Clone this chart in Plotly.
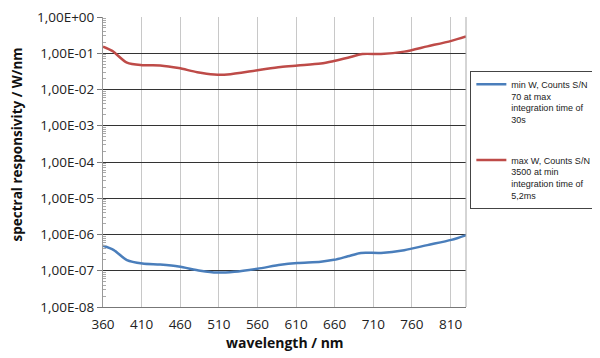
import plotly.graph_objects as go

# Data
wl_min = [360, 374, 391, 411, 434, 458, 486, 508, 530, 560, 590, 612, 642, 659, 677, 694, 720, 750, 780, 811, 830]
min_w = [4.9e-7, 3.7e-7, 1.97e-7, 1.59e-7, 1.48e-7, 1.31e-7, 1.0e-7, 8.9e-8, 9.4e-8, 1.14e-7, 1.46e-7,
         1.63e-7, 1.77e-7, 2.0e-7, 2.5e-7, 3.1e-7, 3.1e-7, 3.7e-7, 5.1e-7, 7.1e-7, 9.6e-7]

wl_max = [360, 372, 391, 411, 434, 458, 482, 504, 521, 560, 590, 612, 642, 659, 677, 696, 720, 750, 780, 811, 830]
max_w = [0.152, 0.116, 0.055, 0.047, 0.046, 0.039, 0.030, 0.026, 0.026, 0.034, 0.042,
         0.046, 0.052, 0.061, 0.075, 0.095, 0.095, 0.111, 0.155, 0.22, 0.29]

x_ticks = [360, 410, 460, 510, 560, 610, 660, 710, 760, 810]
y_ticks = [1e0, 1e-1, 1e-2, 1e-3, 1e-4, 1e-5, 1e-6, 1e-7, 1e-8]
y_ticktext = ["1,00E+00", "1,00E-01", "1,00E-02", "1,00E-03", "1,00E-04",
              "1,00E-05", "1,00E-06", "1,00E-07", "1,00E-08"]

name_min = "min W, Counts S/N<br>70 at max<br>integration time of<br>30s"
name_max = "max W, Counts S/N<br>3500 at min<br>integration time of<br>5,2ms"

x_title = "wavelength / nm"
y_title = "spectral responsivity / W/nm"

minor_vals = [m * 10.0 ** e for e in range(-8, 0) for m in range(2, 10)]

fig = go.Figure()
fig.add_trace(go.Scatter(x=wl_min, y=min_w, mode="lines", name=name_min, legendgroup="a",
                         line=dict(color="#4A7EBB", width=2.5, shape="spline", smoothing=0.8)))
fig.add_trace(go.Scatter(x=wl_max, y=max_w, mode="lines", name=name_max, legendgroup="b",
                         line=dict(color="#BE4B48", width=2.5, shape="spline", smoothing=0.8)))

font_family = "Open Sans, Liberation Sans, Arial, sans-serif"
legend_family = "Liberation Sans, Arial, sans-serif"

# The page adds an 8px body margin, so the figure is 592x350 and shifted.
fig.update_layout(
    width=592, height=350,
    margin=dict(l=95, r=134, t=9, b=51, autoexpand=False),
    paper_bgcolor="white", plot_bgcolor="white",
    font=dict(family=font_family, color="#222"),
    showlegend=True,
    legend=dict(x=1.012, y=0.814, xanchor="left", yanchor="top",
                bordercolor="#444", borderwidth=1, bgcolor="white",
                font=dict(size=9, color="#222", family=legend_family), valign="top",
                traceorder="grouped", tracegroupgap=26, itemwidth=30),
    xaxis=dict(range=[360, 830], tickvals=x_ticks, ticks="outside", ticklen=0,
               showgrid=True, gridcolor="#C8C8C8", gridwidth=1, ticklabelstandoff=5,
               showline=True, linecolor="#777", linewidth=1, automargin=False,
               tickfont=dict(size=13.5, color="#222"), ticklabeloverflow="allow",
               zeroline=False),
    yaxis=dict(type="log", range=[-8, 0], tickvals=y_ticks, ticktext=y_ticktext,
               ticks="outside", ticklen=5, tickcolor="#777", automargin=False,
               showgrid=True, gridcolor="#333", gridwidth=1, ticklabeloverflow="allow",
               showline=True, linecolor="#999", linewidth=1,
               tickfont=dict(size=13.5, color="#222"),
               minor=dict(tickvals=minor_vals, ticks="inside", ticklen=3, tickcolor="#AAA", showgrid=False),
               zeroline=False),
    annotations=[
        dict(text="<b>" + x_title + "</b>", xref="paper", yref="paper", x=0.5, y=-0.121,
             xanchor="center", yanchor="middle", showarrow=False,
             font=dict(size=14, color="#111", family=font_family)),
        dict(text="<b>" + y_title + "</b>", xref="paper", yref="paper", x=-0.238, y=0.559,
             xanchor="center", yanchor="middle", showarrow=False, textangle=-90,
             font=dict(size=13.5, color="#111", family=font_family)),
    ],
)
fig.add_shape(type="line", xref="paper", yref="paper", x0=1, x1=1, y0=0, y1=1,
              line=dict(color="#AAA", width=1))
fig.write_html("out.html")
